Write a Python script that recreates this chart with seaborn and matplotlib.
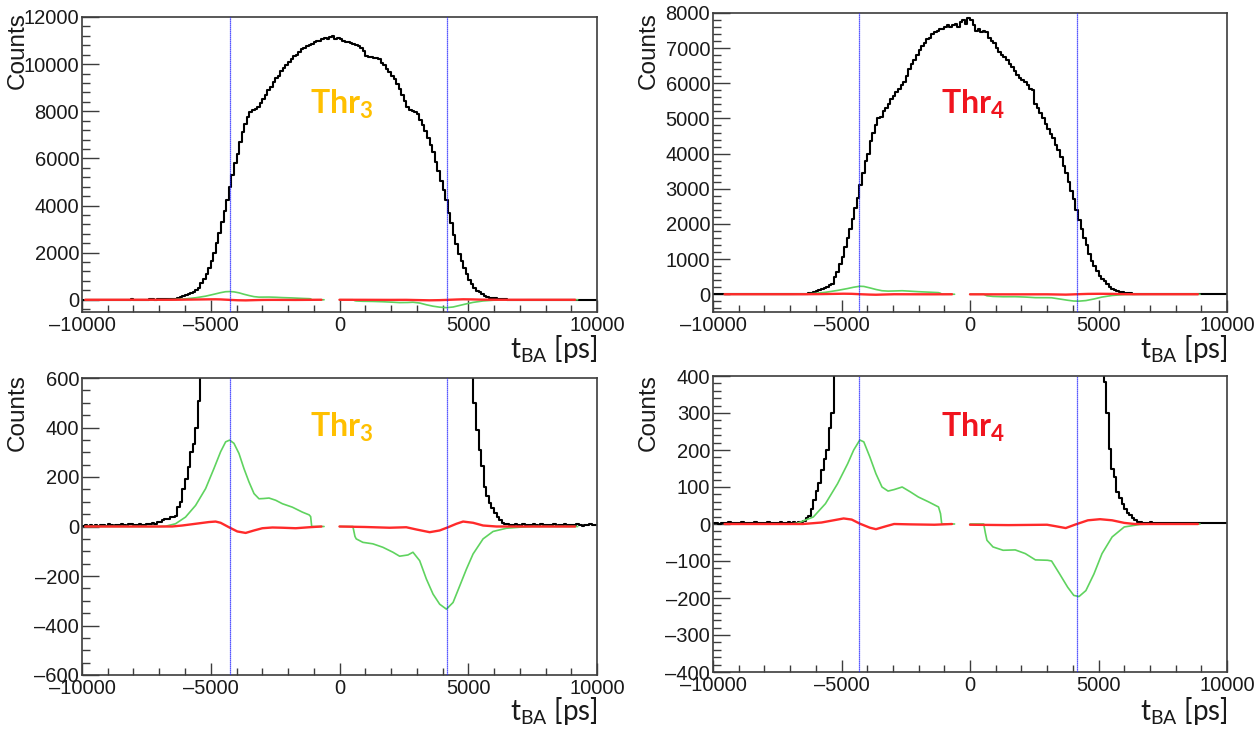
import numpy as np
import pandas as pd
import matplotlib
matplotlib.use("Agg")
import matplotlib.pyplot as plt
import seaborn as sns
from matplotlib.ticker import MultipleLocator, FuncFormatter

# ---------------- data ----------------
# black histograms: 100 ps bins from -10000 to 10000 (left edges -10000 ... 9900)
black_thr3 = (
    [3, 5, 2, 6, 4, 8, 3, 5, 7, 4, 9, 6, 3, 8, 5, 10, 6, 4, 9, 12, 7, 5, 11, 8, 6]
    + [9, 12, 15, 10, 18, 20, 25, 30, 32, 38, 40, 42]
    + [80, 97, 151, 192, 239, 300, 334, 397, 509, 700,
       900, 1100, 1350, 1650, 2000, 2400, 2850, 3300, 3750, 4250,
       4800, 5300, 5800, 6200, 6700, 7100, 7450, 7750, 7950, 8050,
       8100, 8200, 8350, 8500, 8700, 8900, 9050, 9250, 9400, 9500,
       9700, 9850, 9950, 10100, 10200, 10350, 10400, 10500, 10650, 10700,
       10750, 10800, 10850, 10950, 11000, 10980, 11050, 11100, 11050, 11150,
       11200, 11050, 11100, 11050, 11000, 10950, 10950, 10900, 10850, 10800,
       10750, 10700, 10550, 10350, 10300, 10300, 10250, 10250, 10200, 10050,
       9950, 9800, 9650, 9500, 9350, 9150, 8950, 8700, 8450, 8200,
       8050, 8000, 7950, 7900, 7650, 7400, 7150, 6850, 6550, 6250,
       5850, 5450, 5050, 4650, 4250, 3700, 3250, 2750, 2350, 1950,
       1650, 1350, 1100, 850, 680, 500, 390, 310, 245, 160,
       125, 95, 75, 55, 38, 25, 15, 12, 10]
    + [8, 5, 9, 6, 4, 10, 7, 5, 8, 11, 6, 4, 9, 7, 5, 8, 6, 10,
       4, 7, 5, 9, 6, 8, 5, 7, 10, 6, 4, 8, 5, 9, 7, 6]
)

black_thr4 = (
    [2, 3, 1, 4, 2, 3, 5, 2, 3, 4, 2, 5, 3, 2, 4, 3, 5, 2, 4, 3,
     2, 5, 3, 4, 2, 3, 5, 4, 3, 6, 4, 5, 3, 6, 5]
    + [8, 15, 22, 40, 64, 90, 110, 145, 175, 200,
       260, 300, 480, 640, 850, 1050, 1350, 1600, 1850, 2150,
       2450, 2750, 3100, 3450, 3800, 4000, 4350, 4600, 4800, 5000,
       5050, 5200, 5300, 5400, 5550, 5650, 5750, 5850, 5950, 6050,
       6200, 6400, 6550, 6650, 6800, 6950, 7050, 7150, 7250, 7300,
       7400, 7450, 7500, 7550, 7550, 7600, 7650, 7600, 7650, 7700,
       7600, 7750, 7800, 7700, 7850, 7800, 7650, 7500, 7550, 7450,
       7500, 7450, 7300, 7200, 7150, 7000, 6900, 6800, 6750, 6650,
       6550, 6450, 6350, 6250, 6150, 6100, 6050, 5950, 5850, 5800,
       5400, 5300, 5150, 5000, 4850, 4700, 4550, 4450, 4250, 4100,
       3900, 3650, 3450, 3200, 2950, 2700, 2400, 2100, 1850, 1600,
       1400, 1150, 950, 800, 650, 520, 420, 385, 300, 204,
       150, 127, 87, 70, 55, 41, 30, 23, 15, 10, 6]
    + [5, 3, 4, 2, 5, 3, 2, 4, 3, 2, 4, 3, 2, 3, 4, 2, 3, 2,
       3, 2, 4, 2, 3, 2, 3, 2, 2, 3, 2, 2, 3, 2, 2, 3]
)

# green / red difference curves (x in ps, y in counts), two segments each
green3_left_x = [-9875, -7000, -6760, -6370, -5980, -5590, -5200, -4877, -4617, -4422, -4267,
                 -4099, -3904, -3710, -3515, -3320, -3126, -2950, -2737, -2477, -2218,
                 -1829, -1440, -1180, -1120, -1080, -600]
green3_left_y = [0, 0, 1, 11, 38, 85, 153, 234, 302, 342, 349,
                 336, 295, 234, 180, 133, 112, 113, 115, 106, 92,
                 78, 58, 47, 40, 0, 0]
green3_right_x = [0, 520, 600, 650, 907, 1296, 1685, 2075, 2334, 2658, 2853, 3113, 3373,
                  3632, 3891, 4152, 4410, 4669, 4930, 5187, 5576, 5965, 6486, 6992, 7500, 9250]
green3_right_y = [0, 0, -40, -50, -64, -70, -84, -104, -120, -115, -104, -138, -212,
                  -273, -314, -334, -307, -240, -172, -111, -50, -20, -7, -3, 0, 0]
red3_left_x = [-9875, -6500, -6109, -5590, -5071, -4812, -4617, -4293, -3969, -3645,
               -3320, -2996, -2607, -2218, -1700, -1180, -700]
red3_left_y = [0, 0, 4, 11, 18, 20, 15, -3, -20, -26, -16, -7, -4, -5, -7, -3, 0]
red3_right_x = [0, 1000, 1945, 2593, 2983, 3502, 3891, 4216, 4540, 4800, 5187, 5576, 6095, 9150]
red3_right_y = [0, -2, -5, -3, -12, -23, -16, -3, 11, 20, 15, 4, 0, 0]

green4_left_x = [-9550, -7000, -6724, -6096, -5624, -5153, -4760, -4525, -4289, -4132, -3896,
                 -3661, -3425, -3189, -2954, -2640, -2325, -2011, -1618, -1225, -1147, -1100, -600]
green4_left_y = [0, 0, 2, 19, 55, 109, 163, 200, 227, 222, 181,
                 136, 100, 89, 93, 100, 87, 73, 60, 46, 28, 0, 0]
green4_right_x = [0, 534, 600, 660, 895, 1288, 1760, 2153, 2545, 3017, 3174, 3488, 3802,
                  4038, 4242, 4509, 4823, 5137, 5530, 6001, 6630, 7200, 8950]
green4_right_y = [0, 0, -25, -44, -62, -71, -70, -80, -97, -98, -100, -135, -171,
                  -193, -196, -180, -135, -80, -35, -8, -1, 0, 0]
red4_left_x = [-9550, -6500, -5780, -5310, -4917, -4603, -4289, -3896, -3661, -3268,
               -2954, -2325, -1382, -700]
red4_left_y = [0, 0, 4, 10, 15, 12, 1, -10, -14, -6, 0, -1, -2, 0]
red4_right_x = [0, 1500, 3000, 3331, 3724, 4116, 4588, 5059, 5530, 6001, 6400, 8870]
red4_right_y = [-2, -3, -2, -6, -11, -1, 10, 13, 10, 3, 0, 0]

# vertical marker lines (ps)
cuts_thr3 = [-4270, 4180]
cuts_thr4 = [-4320, 4160]

labels = ["3", "4"]
label_colors = ["#FFC000", "#F0141E"]

for arr in (black_thr3, black_thr4):
    if len(arr) != 200:
        raise ValueError(f"bad length {len(arr)}")

bin_centers = np.arange(-10000, 10000, 100) + 50

# ---------------- style ----------------
sns.set_theme(style="ticks")
plt.rcParams.update({
    "font.family": ["Liberation Sans", "DejaVu Sans"],
    "mathtext.fontset": "custom",
    "mathtext.rm": "Lato",
    "mathtext.bf": "Lato:bold",
    "mathtext.it": "Lato:italic",
    "axes.edgecolor": "#3c3c3c",
    "axes.linewidth": 1.2,
})

W, H = 1259, 731
fig = plt.figure(figsize=(W / 100, H / 100), dpi=100)
fig.patch.set_facecolor("white")


def rect(x0, x1, y0, y1):
    return [x0 / W, 1 - y1 / H, (x1 - x0) / W, (y1 - y0) / H]


def root_fmt(v, pos):
    s = f"{int(round(v))}"
    return s.replace("-", "\u2013")


panels = [
    dict(rect=rect(82, 597, 17, 312), black=black_thr3, gl=(green3_left_x, green3_left_y),
         gr=(green3_right_x, green3_right_y), rl=(red3_left_x, red3_left_y),
         rr=(red3_right_x, red3_right_y), cuts=cuts_thr3, ylim=(-519, 12000),
         major=2000, minor=400, lab=0, row=0),
    dict(rect=rect(713, 1227, 13, 312), black=black_thr4, gl=(green4_left_x, green4_left_y),
         gr=(green4_right_x, green4_right_y), rl=(red4_left_x, red4_left_y),
         rr=(red4_right_x, red4_right_y), cuts=cuts_thr4, ylim=(-505, 8000),
         major=1000, minor=200, lab=1, row=0),
    dict(rect=rect(82, 597, 378, 675), black=black_thr3, gl=(green3_left_x, green3_left_y),
         gr=(green3_right_x, green3_right_y), rl=(red3_left_x, red3_left_y),
         rr=(red3_right_x, red3_right_y), cuts=cuts_thr3, ylim=(-600, 600),
         major=200, minor=50, lab=0, row=1),
    dict(rect=rect(713, 1227, 376, 672), black=black_thr4, gl=(green4_left_x, green4_left_y),
         gr=(green4_right_x, green4_right_y), rl=(red4_left_x, red4_left_y),
         rr=(red4_right_x, red4_right_y), cuts=cuts_thr4, ylim=(-400, 400),
         major=100, minor=20, lab=1, row=1),
]

for p in panels:
    ax = fig.add_axes(p["rect"])
    ax.set_facecolor("white")
    df = pd.DataFrame({"t": bin_centers, "n": p["black"]})
    sns.lineplot(data=df, x="t", y="n", ax=ax, color="black", lw=1.5,
                 drawstyle="steps-mid", estimator=None, sort=False)
    for (xs, ys) in (p["gl"], p["gr"]):
        sns.lineplot(x=xs, y=ys, ax=ax, color="#5fd35f", lw=1.2, estimator=None, sort=False)
    for (xs, ys) in (p["rl"], p["rr"]):
        sns.lineplot(x=xs, y=ys, ax=ax, color="#ff2a2a", lw=1.7, estimator=None, sort=False)
    for c in p["cuts"]:
        ax.axvline(c, color="#2020ff", lw=0.9, ls=(0, (1, 0.6)), zorder=5)

    ax.set_xlim(-10000, 10000)
    ax.set_ylim(*p["ylim"])
    ax.xaxis.set_major_locator(MultipleLocator(5000))
    ax.xaxis.set_minor_locator(MultipleLocator(1000))
    ax.yaxis.set_major_locator(MultipleLocator(p["major"]))
    ax.yaxis.set_minor_locator(MultipleLocator(p["minor"]))
    ax.xaxis.set_major_formatter(FuncFormatter(root_fmt))
    ax.yaxis.set_major_formatter(FuncFormatter(root_fmt))
    ax.tick_params(axis="both", which="both", direction="in", colors="#3c3c3c",
                   labelcolor="#1a1a1a", labelsize=14.5)
    ax.tick_params(axis="x", which="major", length=9, width=1, pad=3)
    ax.tick_params(axis="x", which="minor", length=5, width=1)
    ax.tick_params(axis="y", which="major", length=12, width=1, pad=2)
    ax.tick_params(axis="y", which="minor", length=6, width=1)
    ax.set_xlabel("")
    ax.set_ylabel("")
    for s in ax.spines.values():
        s.set_visible(True)

    x0 = p["rect"][0]
    x1 = p["rect"][0] + p["rect"][2]
    ytop_px = 12 if p["row"] == 0 else 374
    # y-axis title (top aligned, as ROOT does)
    fig.text(x0 - 64 / W, 1 - ytop_px / H, "Counts", rotation=90,
             ha="center", va="top", fontsize=17.5, color="#1a1a1a")
    # x-axis title
    ylab_px = 349 if p["row"] == 0 else 711
    fig.text(x1 + 1 / W, 1 - ylab_px / H, r"t$_{\mathrm{BA}}$ [ps]", family="Lato",
             ha="right", va="center", fontsize=20, color="#1a1a1a")
    # threshold label
    ythr_px = 114 if p["row"] == 0 else 437
    fig.text(x0 + 228 / W, 1 - ythr_px / H, r"$\mathbf{Thr}_{\mathbf{" + labels[p["lab"]] + "}}$",
             ha="left", va="baseline", fontsize=23, color=label_colors[p["lab"]])

fig.savefig("out.png", dpi=100, facecolor="white")
